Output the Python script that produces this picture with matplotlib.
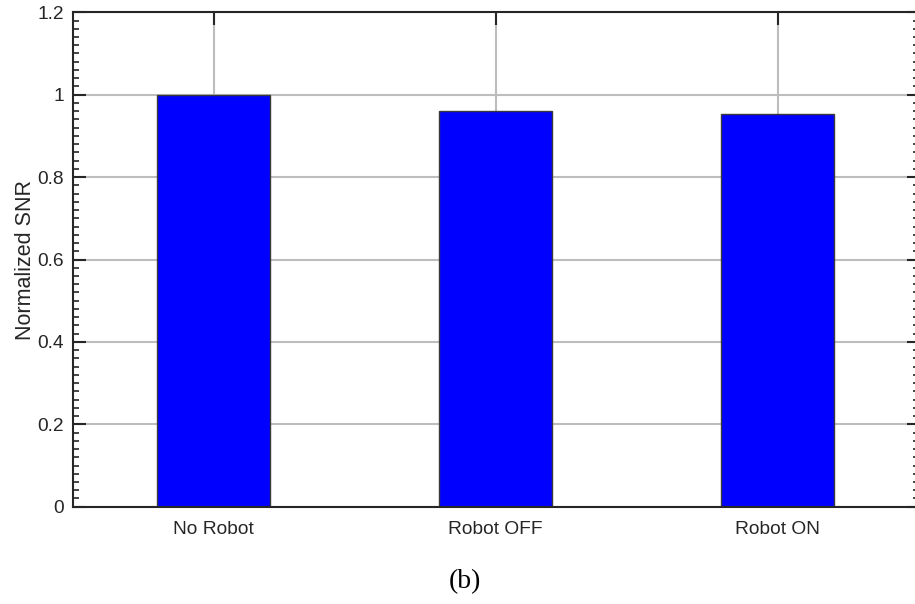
import matplotlib
matplotlib.use("Agg")
import matplotlib.pyplot as plt
from matplotlib.ticker import MultipleLocator

categories = ["No Robot", "Robot OFF", "Robot ON"]
snr_values = [1.0, 0.960, 0.954]
y_ticks = [0, 0.2, 0.4, 0.6, 0.8, 1.0, 1.2]
y_tick_labels = ["0", "0.2", "0.4", "0.6", "0.8", "1", "1.2"]

plt.rcParams['font.family'] = ['Liberation Sans', 'DejaVu Sans']

fig = plt.figure(figsize=(9.15, 6.04), dpi=100)
ax = fig.add_axes([72.5/915, (604-506.7)/604, (918.5-72.5)/915, (506.7-12.3)/604])

x = list(range(1, len(categories) + 1))
ax.bar(x, snr_values, width=0.4, color='#0000ff', edgecolor='#3a3a3a', linewidth=1.0, zorder=3)

ax.set_xlim(0.5, 3.5)
ax.set_ylim(0, 1.2)
ax.set_xticks(x)
ax.set_xticklabels(categories)
ax.set_yticks(y_ticks)
ax.set_yticklabels(y_tick_labels)
ax.yaxis.set_minor_locator(MultipleLocator(0.02))

ax.grid(True, which='major', color='#bdbdbd', linewidth=1.5, zorder=0)
ax.set_axisbelow(True)

ax.tick_params(axis='both', which='major', direction='in', length=9, width=1.5,
               colors='#262626', labelsize=13.8, top=True, right=True)
ax.tick_params(axis='y', which='minor', direction='in', length=4.5, width=1.2,
               colors='#262626', right=True)
ax.tick_params(axis='x', which='major', pad=10)
ax.tick_params(axis='y', which='major', pad=6)
for lab in ax.get_xticklabels() + ax.get_yticklabels():
    lab.set_color('#262626')

for s in ax.spines.values():
    s.set_color('#262626')
    s.set_linewidth(1.5)
    s.set_zorder(4)

ax.set_ylabel("Normalized SNR", fontsize=15.5, color='#262626', labelpad=1)

fig.text(465/915, (604-582)/604, "(b)", ha='center', va='center',
         fontsize=20, family=['Liberation Serif', 'DejaVu Serif'], color='black')

fig.savefig("out.png", dpi=100)
